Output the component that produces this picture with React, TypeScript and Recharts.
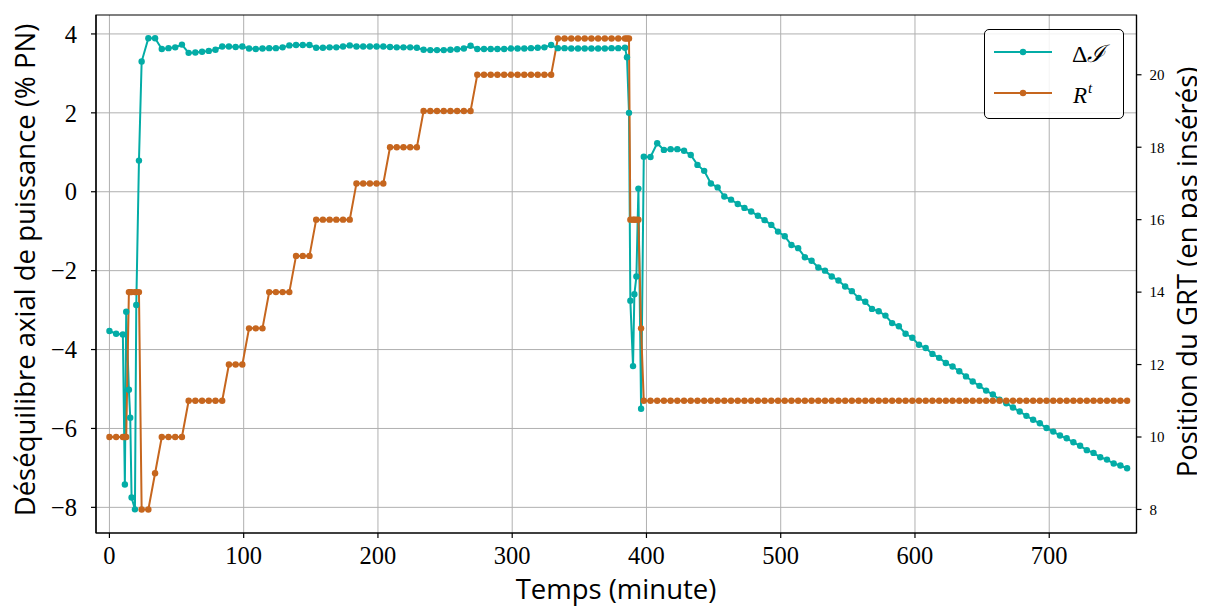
import React from "react";
import {
  LineChart,
  Line,
  XAxis,
  YAxis,
  CartesianGrid,
  ReferenceArea,
} from "recharts";

// ---- data ----
const times: number[] = [
  0, 5, 10, 11.5, 12.5, 14.5, 15.5, 16.5, 19, 20, 22, 24,
  29, 34, 39, 44, 49, 54, 59, 64, 69, 74,
  79, 84, 89, 94, 99, 104, 109, 114, 119, 124,
  129, 134, 139, 144, 149, 154, 159, 164, 169, 174,
  179, 184, 189, 194, 199, 204, 209, 214, 219, 224,
  229, 234, 239, 244, 249, 254, 259, 264, 269, 274,
  279, 284, 289, 294, 299, 304, 309, 314, 319, 324,
  329, 334, 339, 344, 349, 354, 359, 364, 369, 374,
  379, 384,
  385.5, 387, 388, 390, 391, 392.5, 394, 396,
  398, 403, 408, 413, 418, 423, 428, 433, 438, 443,
  448, 453, 458, 463, 468, 473, 478, 483, 488, 493,
  498, 503, 508, 513, 518, 523, 528, 533, 538, 543,
  548, 553, 558, 563, 568, 573, 578, 583, 588, 593,
  598, 603, 608, 613, 618, 623, 628, 633, 638, 643,
  648, 653, 658, 663, 668, 673, 678, 683, 688, 693,
  698, 703, 708, 713, 718, 723, 728, 733, 738, 743,
  748, 753, 758,
];

const deltaI: number[] = [
  -3.53, -3.6, -3.62, -7.42, -3.04, -5.02, -5.73, -7.75, -8.05, -2.87, 0.79, 3.3,
  3.89, 3.89, 3.62, 3.64, 3.66, 3.73, 3.52, 3.53, 3.55, 3.57,
  3.6, 3.68, 3.68, 3.67, 3.68, 3.63, 3.62, 3.63, 3.64, 3.64,
  3.66, 3.71, 3.72, 3.72, 3.72, 3.65, 3.65, 3.66, 3.66, 3.68,
  3.71, 3.68, 3.68, 3.68, 3.68, 3.68, 3.67, 3.66, 3.66, 3.66,
  3.65, 3.6, 3.59, 3.59, 3.59, 3.6, 3.61, 3.63, 3.7, 3.62,
  3.62, 3.62, 3.62, 3.62, 3.63, 3.63, 3.63, 3.64, 3.65, 3.66,
  3.72, 3.64, 3.64, 3.63, 3.63, 3.63, 3.63, 3.63, 3.63, 3.64,
  3.64, 3.65,
  3.41, 2.0, -2.76, -4.42, -2.6, -2.15, 0.08, -5.5,
  0.89, 0.88, 1.23, 1.06, 1.08, 1.08, 1.04, 0.93, 0.68, 0.53,
  0.21, 0.11, -0.12, -0.2, -0.31, -0.41, -0.5, -0.61, -0.72, -0.84,
  -1.01, -1.13, -1.35, -1.43, -1.66, -1.75, -1.92, -2.0, -2.15, -2.25,
  -2.4, -2.52, -2.69, -2.79, -2.97, -3.03, -3.14, -3.33, -3.41, -3.6,
  -3.7, -3.88, -3.96, -4.11, -4.21, -4.34, -4.43, -4.55, -4.68, -4.81,
  -4.92, -5.04, -5.14, -5.27, -5.36, -5.47, -5.57, -5.68, -5.78, -5.87,
  -5.99, -6.08, -6.18, -6.25, -6.35, -6.44, -6.55, -6.62, -6.73, -6.79,
  -6.89, -6.94, -7.01,
];

const rodPos: number[] = [
  10, 10, 10, 10, 10, 14, 14, 14, 14, 14, 14, 8,
  8, 9, 10, 10, 10, 10, 11, 11, 11, 11,
  11, 11, 12, 12, 12, 13, 13, 13, 14, 14,
  14, 14, 15, 15, 15, 16, 16, 16, 16, 16,
  16, 17, 17, 17, 17, 17, 18, 18, 18, 18,
  18, 19, 19, 19, 19, 19, 19, 19, 19, 20,
  20, 20, 20, 20, 20, 20, 20, 20, 20, 20,
  20, 21, 21, 21, 21, 21, 21, 21, 21, 21,
  21, 21,
  21, 21, 16, 16, 16, 16, 16, 13,
  11, 11, 11, 11, 11, 11, 11, 11, 11, 11,
  11, 11, 11, 11, 11, 11, 11, 11, 11, 11,
  11, 11, 11, 11, 11, 11, 11, 11, 11, 11,
  11, 11, 11, 11, 11, 11, 11, 11, 11, 11,
  11, 11, 11, 11, 11, 11, 11, 11, 11, 11,
  11, 11, 11, 11, 11, 11, 11, 11, 11, 11,
  11, 11, 11, 11, 11, 11, 11, 11, 11, 11,
  11, 11, 11,
];

const xTicks = [0, 100, 200, 300, 400, 500, 600, 700];
const leftTicks = [-8, -6, -4, -2, 0, 2, 4];
const rightTicks = [8, 10, 12, 14, 16, 18, 20];

const xLabel = "Temps (minute)";
const leftLabel = "Déséquilibre axial de puissance (% PN)";
const rightLabel = "Position du GRT (en pas insérés)";

const data = times.map((t, i) => ({ t, di: deltaI[i], r: rodPos[i] }));

const CYAN = "#03aca6";
const ORANGE = "#c6661e";
const SERIF = "'Liberation Serif', 'DejaVu Serif', serif";
const SANS = "'Open Sans', 'Noto Sans', sans-serif";

const fmt = (v: number) => (v < 0 ? "\u2212" + Math.abs(v) : String(v));

const W = 1189;
const H = 590;

export default function App() {
  return (
    <div
      style={{
        position: "relative",
        width: W + 8,
        height: H + 8,
        background: "#fff",
      }}
    >
      <style>{`html,body{overflow:hidden}`}</style>
      <LineChart
        width={W}
        height={H}
        data={data}
        margin={{ top: 7, right: 0, bottom: 0, left: 0 }}
      >
        <CartesianGrid
          yAxisId="left"
          stroke="#b0b0b0"
          strokeWidth={1}
          horizontalValues={leftTicks}
          verticalValues={xTicks}
        />
        <XAxis
          dataKey="t"
          type="number"
          domain={[-10, 765]}
          allowDataOverflow
          ticks={xTicks}
          height={65}
          tickSize={5}
          tickMargin={9}
          tick={{ fontFamily: SERIF, fontSize: 24.5, fill: "#000" }}
          tickLine={{ stroke: "#000", strokeWidth: 1.2 }}
          axisLine={{ stroke: "#000", strokeWidth: 1.2 }}
        />
        <YAxis
          yAxisId="left"
          type="number"
          domain={[-8.65, 4.48]}
          allowDataOverflow
          ticks={leftTicks}
          tickFormatter={fmt}
          width={88}
          tickSize={5}
          tickMargin={14}
          tick={{ fontFamily: SERIF, fontSize: 24.5, fill: "#000" }}
          tickLine={{ stroke: "#000", strokeWidth: 1.2 }}
          axisLine={{ stroke: "#000", strokeWidth: 1.2 }}
        />
        <YAxis
          yAxisId="right"
          orientation="right"
          type="number"
          domain={[7.35, 21.65]}
          allowDataOverflow
          ticks={rightTicks}
          width={60.5}
          tickSize={5}
          tickMargin={8}
          tick={{ fontFamily: SERIF, fontSize: 15, fill: "#000" }}
          tickLine={{ stroke: "#000", strokeWidth: 1.2 }}
          axisLine={{ stroke: "#000", strokeWidth: 1.2 }}
        />
        <ReferenceArea
          yAxisId="left"
          x1={-10}
          x2={765}
          y1={-8.65}
          y2={4.48}
          fill="none"
          fillOpacity={0}
          stroke="#000"
          strokeWidth={1.2}
          ifOverflow="visible"
        />
        <Line
          yAxisId="left"
          type="linear"
          dataKey="di"
          stroke={CYAN}
          strokeWidth={2}
          dot={{ r: 3.2, fill: CYAN, stroke: CYAN, strokeWidth: 0 }}
          activeDot={false}
          isAnimationActive={false}
        />
        <Line
          yAxisId="right"
          type="linear"
          dataKey="r"
          stroke={ORANGE}
          strokeWidth={2}
          dot={{ r: 3.2, fill: ORANGE, stroke: ORANGE, strokeWidth: 0 }}
          activeDot={false}
          isAnimationActive={false}
        />
      </LineChart>

      {/* axis titles (page coordinates) */}
      <svg
        width={1205}
        height={606}
        style={{
          position: "absolute",
          left: -8,
          top: -8,
          pointerEvents: "none",
          overflow: "visible",
        }}
      >
        <text
          x={616}
          y={599}
          textAnchor="middle"
          fontFamily={SANS}
          fontSize={27.5}
          fill="#000"
        >
          {xLabel}
        </text>
        <text
          transform="translate(35, 270) rotate(-90)"
          textAnchor="middle"
          fontFamily={SANS}
          fontSize={27.5}
          fill="#000"
        >
          {leftLabel}
        </text>
        <text
          transform="translate(1197, 272) rotate(-90)"
          textAnchor="middle"
          fontFamily={SANS}
          fontSize={27.5}
          fill="#000"
        >
          {rightLabel}
        </text>
      </svg>

      {/* legend */}
      <div
        style={{
          position: "absolute",
          left: 976,
          top: 21,
          width: 140,
          height: 90,
          boxSizing: "border-box",
          border: "1.2px solid #000",
          borderRadius: 5,
          background: "rgba(255,255,255,0.85)",
        }}
      >
        <svg width={140} height={90} style={{ position: "absolute", left: -1, top: -1 }}>
          <line x1={10} x2={68} y1={23} y2={23} stroke={CYAN} strokeWidth={2} />
          <circle cx={39} cy={23} r={3.2} fill={CYAN} />
          <line x1={10} x2={68} y1={64} y2={64} stroke={ORANGE} strokeWidth={2} />
          <circle cx={39} cy={64} r={3.2} fill={ORANGE} />
          <text x={88} y={33} fontFamily={SERIF} fontSize={24} fill="#000">
            Δ<tspan fontStyle="italic">ℐ</tspan>
          </text>
          <text x={89} y={74} fontFamily={SERIF} fontSize={23} fontStyle="italic" fill="#000">
            R
            <tspan fontSize={15} dy={-10} dx={1}>t</tspan>
          </text>
        </svg>
      </div>
    </div>
  );
}
